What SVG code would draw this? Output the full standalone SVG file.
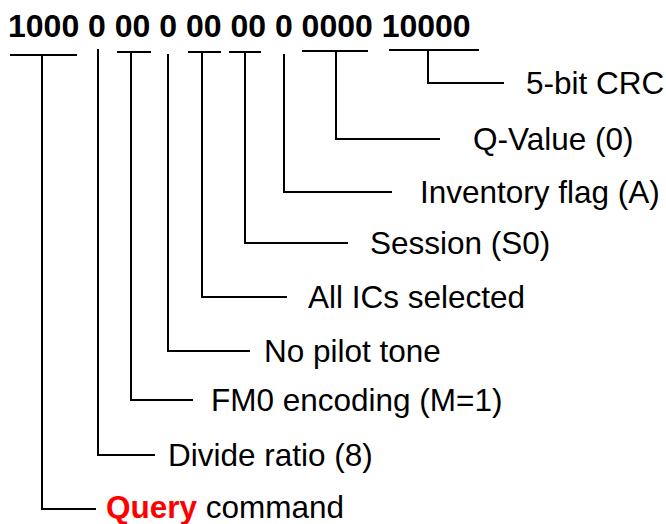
<svg xmlns="http://www.w3.org/2000/svg" width="666" height="524" viewBox="0 0 666 524">
<style>
.c{fill:none;stroke:#000;stroke-width:2}
.t{font-family:"Liberation Sans",Arial,sans-serif;font-size:31.5px;fill:#000}
.b{font-family:"Liberation Sans",Arial,sans-serif;font-size:32px;font-weight:bold;fill:#000}
.q{font-weight:bold;fill:#ff0000}
</style>
<rect width="666" height="524" fill="#fff"/>
<g id="bits"><text class="b" x="8" y="37">1000 0 00 0 00 00 0 0000 10000</text></g>
<g id="connectors">
<path class="c" d="M10 55H77M42 55V509H96"/>
<path class="c" d="M98 49V455H155"/>
<path class="c" d="M117 52H151M131 52V400H193"/>
<path class="c" d="M168 54V351H250"/>
<path class="c" d="M188 52H221M202 52V297H287"/>
<path class="c" d="M229 52H261M245 52V243H348"/>
<path class="c" d="M284 54V192H392"/>
<path class="c" d="M302 51H368M336 51V139H440"/>
<path class="c" d="M389 50H479M428 50V83H504"/>
</g>
<g id="crc"><text class="t" x="526" y="94">5-bit CRC</text></g>
<g id="q"><text class="t" x="473" y="150">Q-Value (0)</text></g>
<g id="inv"><text class="t" x="420" y="203">Inventory flag (A)</text></g>
<g id="session"><text class="t" x="370" y="254">Session (S0)</text></g>
<g id="sel"><text class="t" x="308" y="308">All ICs selected</text></g>
<g id="pilot"><text class="t" x="264" y="362">No pilot tone</text></g>
<g id="fm0"><text class="t" x="211" y="411">FM0 encoding (M=1)</text></g>
<g id="div"><text class="t" x="168" y="466">Divide ratio (8)</text></g>
<g id="query"><text class="t" x="106" y="518"><tspan class="q">Query</tspan> command</text></g>
</svg>
